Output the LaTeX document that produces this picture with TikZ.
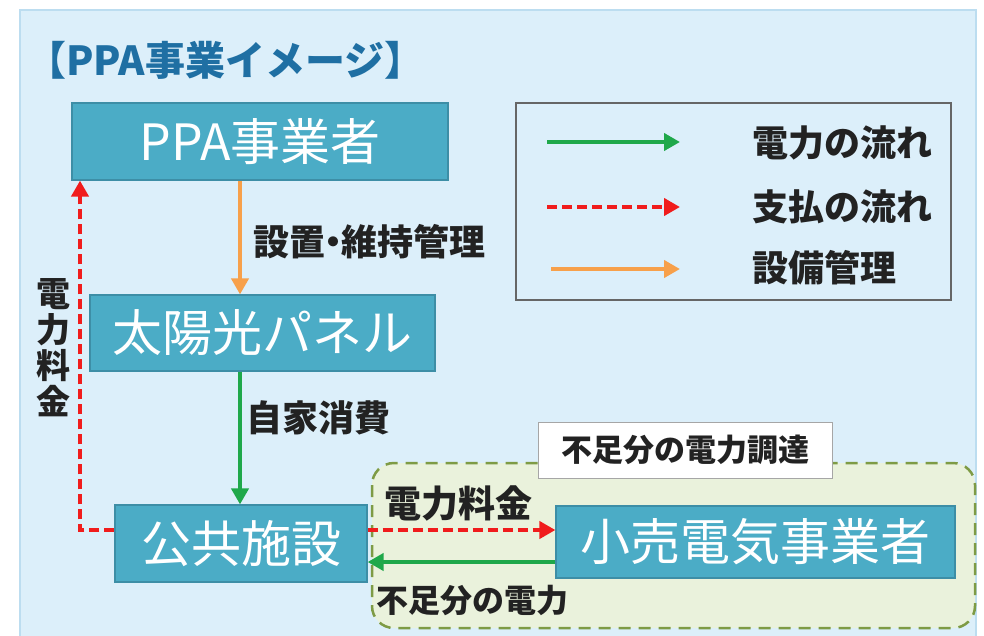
\documentclass[tikz,border=0pt]{standalone}
\usepackage{fontspec}
\setmainfont{Noto Sans CJK JP}
\usetikzlibrary{arrows.meta}
\definecolor{panelbg}{HTML}{DCEFFA}
\definecolor{panelln}{HTML}{BCDDF0}
\definecolor{boxfill}{HTML}{4BACC6}
\definecolor{boxln}{HTML}{3D8EA6}
\definecolor{titlec}{HTML}{1F6FA3}
\definecolor{gline}{HTML}{1FA84A}
\definecolor{rline}{HTML}{F01C1C}
\definecolor{oline}{HTML}{F7A04A}
\definecolor{regfill}{HTML}{EAF2DC}
\definecolor{regln}{HTML}{7E9B45}
\definecolor{txt}{HTML}{222222}
\tikzset{
  mainbox/.style={draw=boxln, line width=1.2pt, fill=boxfill, text=white, font=\fontsize{50}{54}\selectfont, inner sep=0pt},
  lbl/.style={text=txt, font=\bfseries\fontsize{36}{40}\selectfont, inner sep=0pt},
  sml/.style={text=txt, font=\bfseries\fontsize{31}{34}\selectfont, inner sep=0pt},
  tip/.style={-{Triangle[length=16pt,width=17pt]}},
  garrow/.style={tip, draw=gline, line width=4pt},
  oarrow/.style={tip, draw=oline, line width=4pt},
  rarrow/.style={tip, draw=rline, line width=4pt, dash pattern=on 10pt off 5pt}
}
\begin{document}
\begin{tikzpicture}[x=1pt,y=-1pt]
\useasboundingbox (0,0) rectangle (984,635);
\fill[white] (0,0) rectangle (984,635);
\draw[panelln, line width=2pt, fill=panelbg] (20,10) rectangle (976,650);

\node[anchor=west, text=titlec, font=\bfseries\fontsize{40}{44}\selectfont, inner sep=0pt] (title) at (26,60) {【PPA事業イメージ】};

% region
\draw[regln, line width=2.5pt, dash pattern=on 12pt off 8pt, fill=regfill, rounded corners=22pt] (372,463) rectangle (975,628);

% boxes
\node[mainbox, minimum width=376pt, minimum height=77pt] (ppa) at (260,141.5) {PPA事業者};
\node[mainbox, minimum width=345pt, minimum height=76pt] (sol) at (262.5,333) {太陽光パネル};
\node[mainbox, minimum width=252pt, minimum height=77pt] (pub) at (241,543.5) {公共施設};
\node[mainbox, minimum width=399pt, minimum height=72pt] (ret) at (755.5,542) {小売電気事業者};
\node[draw=gray!70, line width=1pt, fill=white, minimum width=294pt, minimum height=56pt, sml] (short) at (685,450) {不足分の電力調達};

% arrows
\draw[oarrow] ([xshift=-20pt]ppa.south) -- ([xshift=-22.5pt]sol.north);
\draw[garrow] ([xshift=-22.5pt]sol.south) -- ([xshift=-1pt]pub.north);
\draw[rarrow] ([yshift=13.5pt]pub.west) -| ([xshift=-180pt]ppa.south);
\draw[rarrow] ([yshift=13.5pt]pub.east) -- ([yshift=13.5pt]pub.east -| ret.west);
\draw[garrow] ([yshift=-20pt]ret.west) -- ([yshift=-20pt]ret.west -| pub.east);

% labels
\node[lbl, anchor=west] (l1) at (253,242) {設置\kern-10pt・\kern-10pt維持管理};
\node[lbl, anchor=west] (l2) at (246,418) {自家消費};
\node[lbl, anchor=west, font=\bfseries\fontsize{37}{40}\selectfont] (l3) at (384,503) {電力料金};
\node[sml, anchor=west, font=\bfseries\fontsize{32}{35}\selectfont] (l4) at (376,600) {不足分の電力};
\node[lbl, align=center, font=\bfseries\fontsize{34}{36}\selectfont] (l5) at (53,348) {電\\力\\料\\金};

% legend
\draw[draw=gray!80!black, line width=1.5pt, fill=panelbg] (516,103) rectangle (951,300);
\coordinate (g1) at (547,142); \coordinate (g2) at (680,142);
\coordinate (r1) at (547,207); \coordinate (r2) at (680,207);
\coordinate (o1) at (551,269); \coordinate (o2) at (680,269);
\draw[garrow] (g1) -- (g2);
\draw[rarrow] (r1) -- (r2);
\draw[oarrow] (o1) -- (o2);
\node[lbl, anchor=west] (lg1) at (752,143) {電力の流れ};
\node[lbl, anchor=west] (lg2) at (752,207) {支払の流れ};
\node[lbl, anchor=west] (lg3) at (752,268) {設備管理};
\end{tikzpicture}
\end{document}
